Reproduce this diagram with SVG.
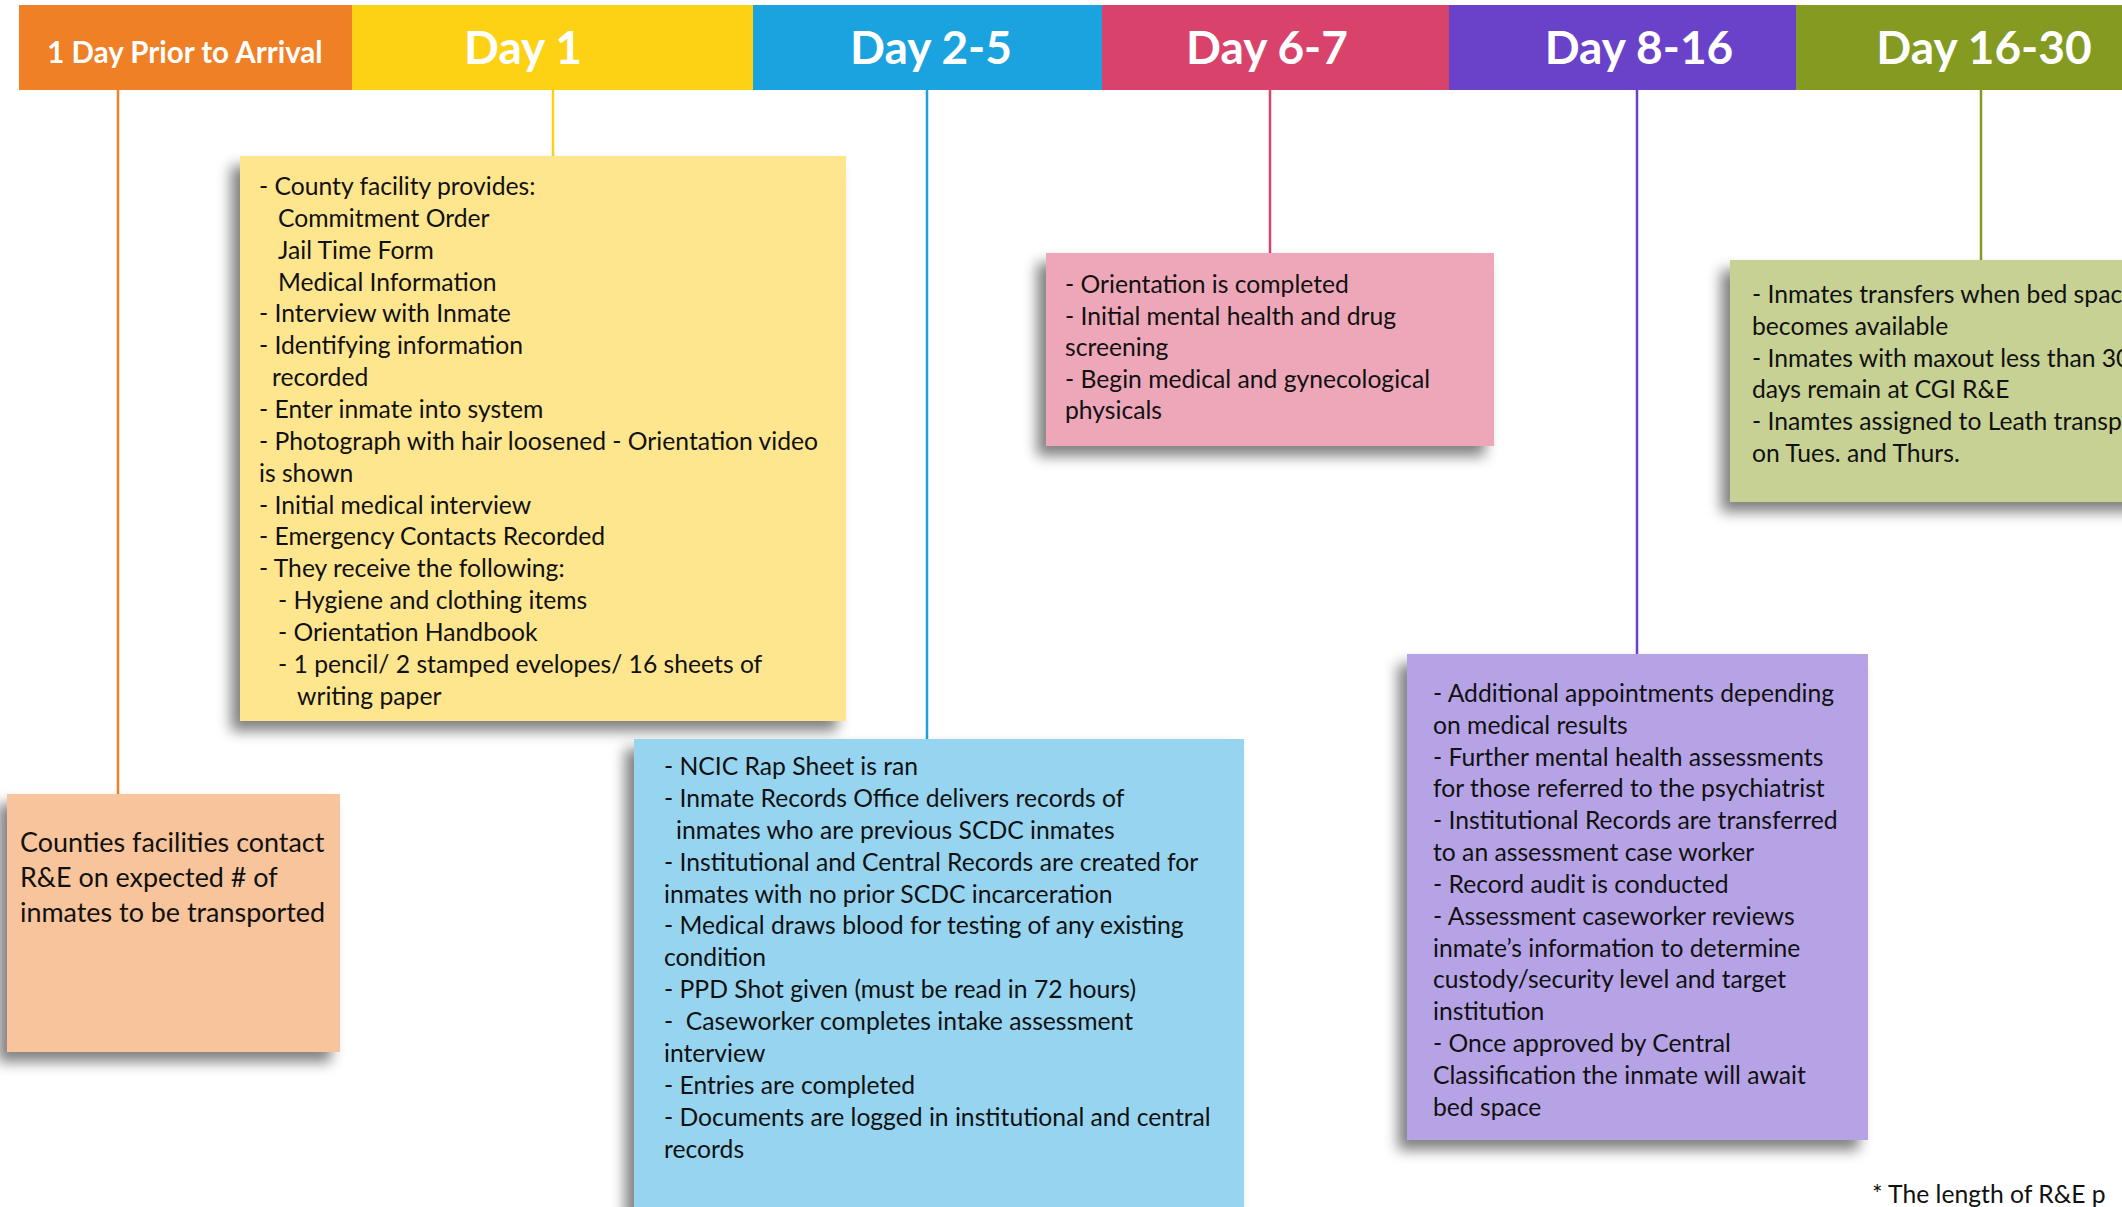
<svg xmlns="http://www.w3.org/2000/svg" width="2122" height="1207" viewBox="0 0 2122 1207">
<style>
.hd{font-family:Lato,"Liberation Sans",sans-serif;font-weight:700;fill:#ffffff;text-anchor:middle}
.big{font-size:46px}
.sm{font-size:29.5px}
.tx{font-family:Lato,"Liberation Sans",sans-serif;font-size:24.7px;fill:#111111;white-space:pre}
.tx2{font-family:Lato,"Liberation Sans",sans-serif;font-size:26.9px;fill:#111111}
.ln{stroke-width:2.5;fill:none}
.box{filter:url(#sh)}
</style>
<defs>
<filter id="sh" x="-20%" y="-20%" width="140%" height="140%">
<feGaussianBlur in="SourceAlpha" stdDeviation="7"/>
<feOffset dx="-9" dy="10"/>
<feComponentTransfer><feFuncA type="linear" slope="0.5"/></feComponentTransfer>
<feMerge><feMergeNode/><feMergeNode in="SourceGraphic"/></feMerge>
</filter>
</defs>
<rect width="2122" height="1207" fill="#ffffff"/>

<g id="header">
<g id="h-prior"><rect x="19" y="5" width="333" height="85" fill="#EF8026"/><text class="hd sm" x="185" y="63">1 Day Prior to Arrival</text></g>
<g id="h-day1"><rect x="352" y="5" width="401" height="85" fill="#FED214"/><text class="hd big" x="523" y="64">Day 1</text></g>
<g id="h-day2-5"><rect x="753" y="5" width="349" height="85" fill="#1AA3DF"/><text class="hd big" x="931" y="64">Day 2-5</text></g>
<g id="h-day6-7"><rect x="1102" y="5" width="347" height="85" fill="#D9436B"/><text class="hd big" x="1267" y="64">Day 6-7</text></g>
<g id="h-day8-16"><rect x="1449" y="5" width="347" height="85" fill="#6A42C9"/><text class="hd big" x="1639" y="64">Day 8-16</text></g>
<g id="h-day16-30"><rect x="1796" y="5" width="326" height="85" fill="#849A21"/><text class="hd big" x="1984" y="64">Day 16-30</text></g>
</g>

<g id="connectors">
<line class="ln" x1="118" y1="90" x2="118" y2="794" stroke="#EF8026"/>
<line class="ln" x1="553" y1="90" x2="553" y2="156" stroke="#FED214"/>
<line class="ln" x1="927" y1="90" x2="927" y2="739" stroke="#1AA3DF"/>
<line class="ln" x1="1270" y1="90" x2="1270" y2="253" stroke="#D9436B"/>
<line class="ln" x1="1637" y1="90" x2="1637" y2="654" stroke="#6A42C9"/>
<line class="ln" x1="1981" y1="90" x2="1981" y2="260" stroke="#849A21"/>
</g>

<g id="box-prior">
<rect class="box" x="7" y="794" width="333" height="258" fill="#F7C49B"/>
<text class="tx2" x="20" y="852">Counties facilities contact</text>
<text class="tx2" x="20" y="887">R&amp;E on expected # of</text>
<text class="tx2" x="20" y="922">inmates to be transported</text>
</g>

<g id="box-day1">
<rect class="box" x="240" y="156" width="606" height="565" fill="#FEE68F"/>
<text class="tx" x="259" y="195">- County facility provides:</text>
<text class="tx" x="278" y="227">Commitment Order</text>
<text class="tx" x="278" y="258.5">Jail Time Form</text>
<text class="tx" x="278" y="290.5">Medical Information</text>
<text class="tx" x="259" y="322">- Interview with Inmate</text>
<text class="tx" x="259" y="354">- Identifying information</text>
<text class="tx" x="272" y="386">recorded</text>
<text class="tx" x="259" y="418">- Enter inmate into system</text>
<text class="tx" x="259" y="449.5">- Photograph with hair loosened - Orientation video</text>
<text class="tx" x="259" y="481.5">is shown</text>
<text class="tx" x="259" y="513.5">- Initial medical interview</text>
<text class="tx" x="259" y="545">- Emergency Contacts Recorded</text>
<text class="tx" x="259" y="577">- They receive the following:</text>
<text class="tx" x="278" y="609">- Hygiene and clothing items</text>
<text class="tx" x="278" y="641">- Orientation Handbook</text>
<text class="tx" x="278" y="672.5">- 1 pencil/ 2 stamped evelopes/ 16 sheets of</text>
<text class="tx" x="297" y="704.5">writing paper</text>
</g>

<g id="box-day2-5">
<rect class="box" x="634" y="739" width="610" height="480" fill="#97D4F0"/>
<text class="tx" x="664" y="775">- NCIC Rap Sheet is ran</text>
<text class="tx" x="664" y="807">- Inmate Records Office delivers records of</text>
<text class="tx" x="676" y="839">inmates who are previous SCDC inmates</text>
<text class="tx" x="664" y="870.5">- Institutional and Central Records are created for</text>
<text class="tx" x="664" y="902.5">inmates with no prior SCDC incarceration</text>
<text class="tx" x="664" y="934">- Medical draws blood for testing of any existing</text>
<text class="tx" x="664" y="966">condition</text>
<text class="tx" x="664" y="998">- PPD Shot given (must be read in 72 hours)</text>
<text class="tx" x="664" y="1030">-  Caseworker completes intake assessment</text>
<text class="tx" x="664" y="1062">interview</text>
<text class="tx" x="664" y="1094">- Entries are completed</text>
<text class="tx" x="664" y="1126">- Documents are logged in institutional and central</text>
<text class="tx" x="664" y="1158">records</text>
</g>

<g id="box-day6-7">
<rect class="box" x="1046" y="253" width="448" height="193" fill="#EDA7B9"/>
<text class="tx" x="1065" y="293">- Orientation is completed</text>
<text class="tx" x="1065" y="324.5">- Initial mental health and drug</text>
<text class="tx" x="1065" y="356">screening</text>
<text class="tx" x="1065" y="387.5">- Begin medical and gynecological</text>
<text class="tx" x="1065" y="419">physicals</text>
</g>

<g id="box-day8-16">
<rect class="box" x="1407" y="654" width="461" height="486" fill="#B6A3E6"/>
<text class="tx" x="1433" y="702">- Additional appointments depending</text>
<text class="tx" x="1433" y="733.5">on medical results</text>
<text class="tx" x="1433" y="765.5">- Further mental health assessments</text>
<text class="tx" x="1433" y="797">for those referred to the psychiatrist</text>
<text class="tx" x="1433" y="829">- Institutional Records are transferred</text>
<text class="tx" x="1433" y="861">to an assessment case worker</text>
<text class="tx" x="1433" y="892.5">- Record audit is conducted</text>
<text class="tx" x="1433" y="924.5">- Assessment caseworker reviews</text>
<text class="tx" x="1433" y="956.5">inmate’s information to determine</text>
<text class="tx" x="1433" y="988">custody/security level and target</text>
<text class="tx" x="1433" y="1020">institution</text>
<text class="tx" x="1433" y="1052">- Once approved by Central</text>
<text class="tx" x="1433" y="1084">Classification the inmate will await</text>
<text class="tx" x="1433" y="1116">bed space</text>
</g>

<g id="box-day16-30">
<rect class="box" x="1730" y="260" width="420" height="242" fill="#C7D194"/>
<text class="tx" x="1752" y="303">- Inmates transfers when bed spac</text>
<text class="tx" x="1752" y="335">becomes available</text>
<text class="tx" x="1752" y="366.5">- Inmates with maxout less than 30</text>
<text class="tx" x="1752" y="398">days remain at CGI R&amp;E</text>
<text class="tx" x="1752" y="430">- Inamtes assigned to Leath transp</text>
<text class="tx" x="1752" y="462">on Tues. and Thurs.</text>
</g>

<g id="footnote">
<text class="tx" x="1872" y="1203">* The length of R&amp;E p</text>
</g>
</svg>
